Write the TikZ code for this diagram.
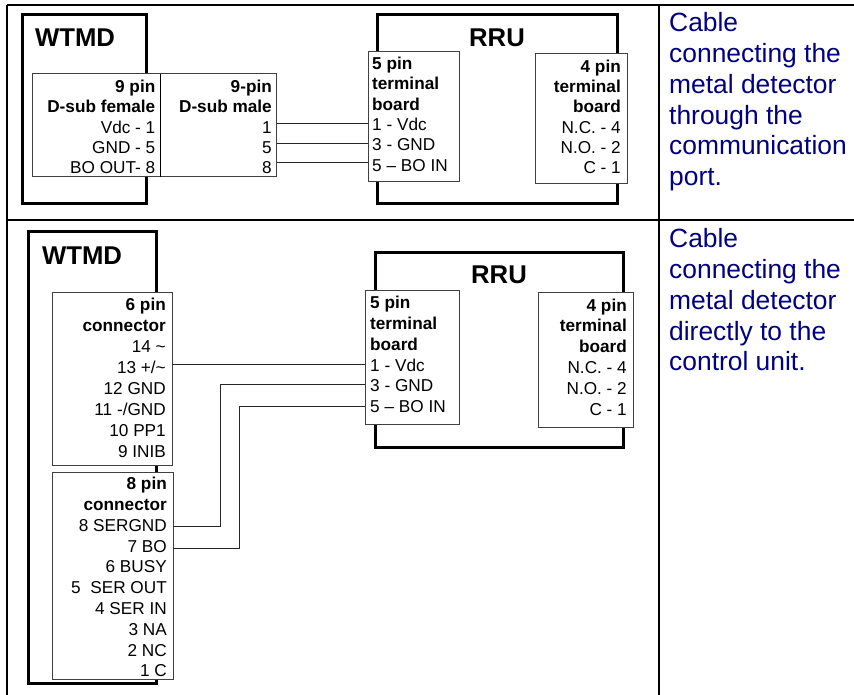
\documentclass[tikz,border=0pt]{standalone}
\usepackage{fontspec}
\setmainfont{Liberation Sans}
\usetikzlibrary{calc}
\definecolor{capblue}{HTML}{000080}
\tikzset{
    grid/.style={line width=2pt,black},
    unitbox/.style={draw,line width=3pt,inner sep=0pt,outer sep=0pt,anchor=north west},
    pinbox/.style={draw=black!75,line width=1pt,fill=white,inner sep=0pt,outer sep=0pt,anchor=north west},
    pinright/.style={inner sep=0pt,anchor=north east,align=right,font=\fontsize{17.2}{20.3}\selectfont},
    pinleft/.style={inner sep=0pt,anchor=north west,align=left,font=\fontsize{17.2}{20.3}\selectfont},
    unitname/.style={inner sep=0pt,font=\fontsize{25.7}{30}\selectfont\bfseries},
    caption/.style={inner sep=0pt,anchor=north west,align=left,text=capblue,font=\fontsize{26.4}{30.9}\selectfont},
    wire/.style={line width=1pt,black!85}
}

\begin{document}
\begin{tikzpicture}[x=1pt,y=-1pt]
    \useasboundingbox (0,0) rectangle (854,695);
    \draw[grid] (7,5) -- (854,5);
    \draw[grid] (6,220) -- (854,220);
    \draw[grid] (7,5) -- (7,695);
    \draw[grid] (659,5) -- (659,695);

    % upper cable
    \node[unitbox,minimum width=124pt,minimum height=189pt] (WTMDa) at (22,15) {};
    \node[unitbox,minimum width=240pt,minimum height=189pt] (RRUa) at (377,15) {};
    \node[unitname] (WTMDaname) at (75,38) {WTMD};
    \node[unitname] (RRUaname) at (497,38) {RRU};

    \node[pinbox,minimum width=128.5pt,minimum height=103pt] (FEMa) at (32,74) {};
    \node[pinbox,minimum width=116pt,minimum height=103pt] (MALEa) at (160.5,74) {};
    \draw[line width=1pt,black] (FEMa.north east) -- (FEMa.south east);
    \node[pinbox,minimum width=91pt,minimum height=130pt] (TERMa) at (368,52) {};
    \node[pinbox,minimum width=92pt,minimum height=130pt] (RELa) at (535,54) {};

    \node[pinright] (FEMatext) at (155.5,80) {\textbf{9 pin}\\\textbf{D-sub female}\\Vdc - 1\\GND - 5\\BO OUT- 8};
    \node[pinright] (MALEatext) at (272,80) {\textbf{9-pin}\\\textbf{D-sub male}\\1\\5\\8};
    \node[pinleft] (TERMatext) at (372,57) {\textbf{5 pin}\\\textbf{terminal}\\\textbf{board}\\1 - Vdc\\3 - GND\\5 -- BO IN};
    \node[pinright] (RELatext) at (621,59.5) {\textbf{4 pin}\\\textbf{terminal}\\\textbf{board}\\N.C. - 4\\N.O. - 2\\C - 1};

    \coordinate (VDCa) at (MALEa.east |- 0,124);
    \coordinate (GNDa) at (MALEa.east |- 0,144);
    \coordinate (BOa) at (MALEa.east |- 0,163);
    \draw[wire] (VDCa) -- (VDCa -| TERMa.west);
    \draw[wire] (GNDa) -- (GNDa -| TERMa.west);
    \draw[wire] (BOa) -- (BOa -| TERMa.west);

    \node[caption] (CAPa) at (669,12) {Cable\\connecting the\\metal detector\\through the\\communication\\port.};

    % lower cable
    \node[unitbox,minimum width=128pt,minimum height=451pt] (WTMDb) at (28,232) {};
    \node[unitbox,minimum width=248pt,minimum height=195pt] (RRUb) at (375,252) {};
    \node[unitname] (WTMDbname) at (82,256) {WTMD};
    \node[unitname] (RRUbname) at (499,275) {RRU};

    \node[pinbox,minimum width=120pt,minimum height=173pt] (SIXb) at (52,292) {};
    \node[pinbox,minimum width=120.5pt,minimum height=207pt] (EIGHTb) at (52.5,472) {};
    \node[pinbox,minimum width=94pt,minimum height=134pt] (TERMb) at (365,290) {};
    \node[pinbox,minimum width=95pt,minimum height=135pt] (RELb) at (538,292) {};

    \node[pinright,font=\fontsize{17.2}{21}\selectfont] (SIXbtext) at (166,297.5) {\textbf{6 pin}\\\textbf{connector}\\14 \textasciitilde\\13 +/\textasciitilde\\12 GND\\11 -/GND\\10 PP1\\9 INIB};
    \node[pinright,font=\fontsize{17.2}{20.8}\selectfont] (EIGHTbtext) at (167,477) {\textbf{8 pin}\\\textbf{connector}\\8 SERGND\\7 BO\\6 BUSY\\5 \ SER OUT\\4 SER IN\\3 NA\\2 NC\\1 C};
    \node[pinleft,font=\fontsize{17.2}{20.8}\selectfont] (TERMbtext) at (370,296) {\textbf{5 pin}\\\textbf{terminal}\\\textbf{board}\\1 - Vdc\\3 - GND\\5 -- BO IN};
    \node[pinright,font=\fontsize{17.2}{20.8}\selectfont] (RELbtext) at (627,298.5) {\textbf{4 pin}\\\textbf{terminal}\\\textbf{board}\\N.C. - 4\\N.O. - 2\\C - 1};

    \coordinate (VDCb) at (SIXb.east |- 0,364);
    \coordinate (GNDb) at (EIGHTb.east |- 0,526);
    \coordinate (BOb) at (EIGHTb.east |- 0,548);
    \coordinate (GNDin) at (TERMb.west |- 0,384);
    \coordinate (BOin) at (TERMb.west |- 0,406);
    \draw[wire] (VDCb) -- (VDCb -| TERMb.west);
    \draw[wire] (GNDb) -- ++ (47,0) |- (GNDin);
    \draw[wire] (BOb) -- ++ (66,0) |- (BOin);

    \node[caption] (CAPb) at (669,228) {Cable\\connecting the\\metal detector\\directly to the\\control unit.};
\end{tikzpicture}
\end{document}
